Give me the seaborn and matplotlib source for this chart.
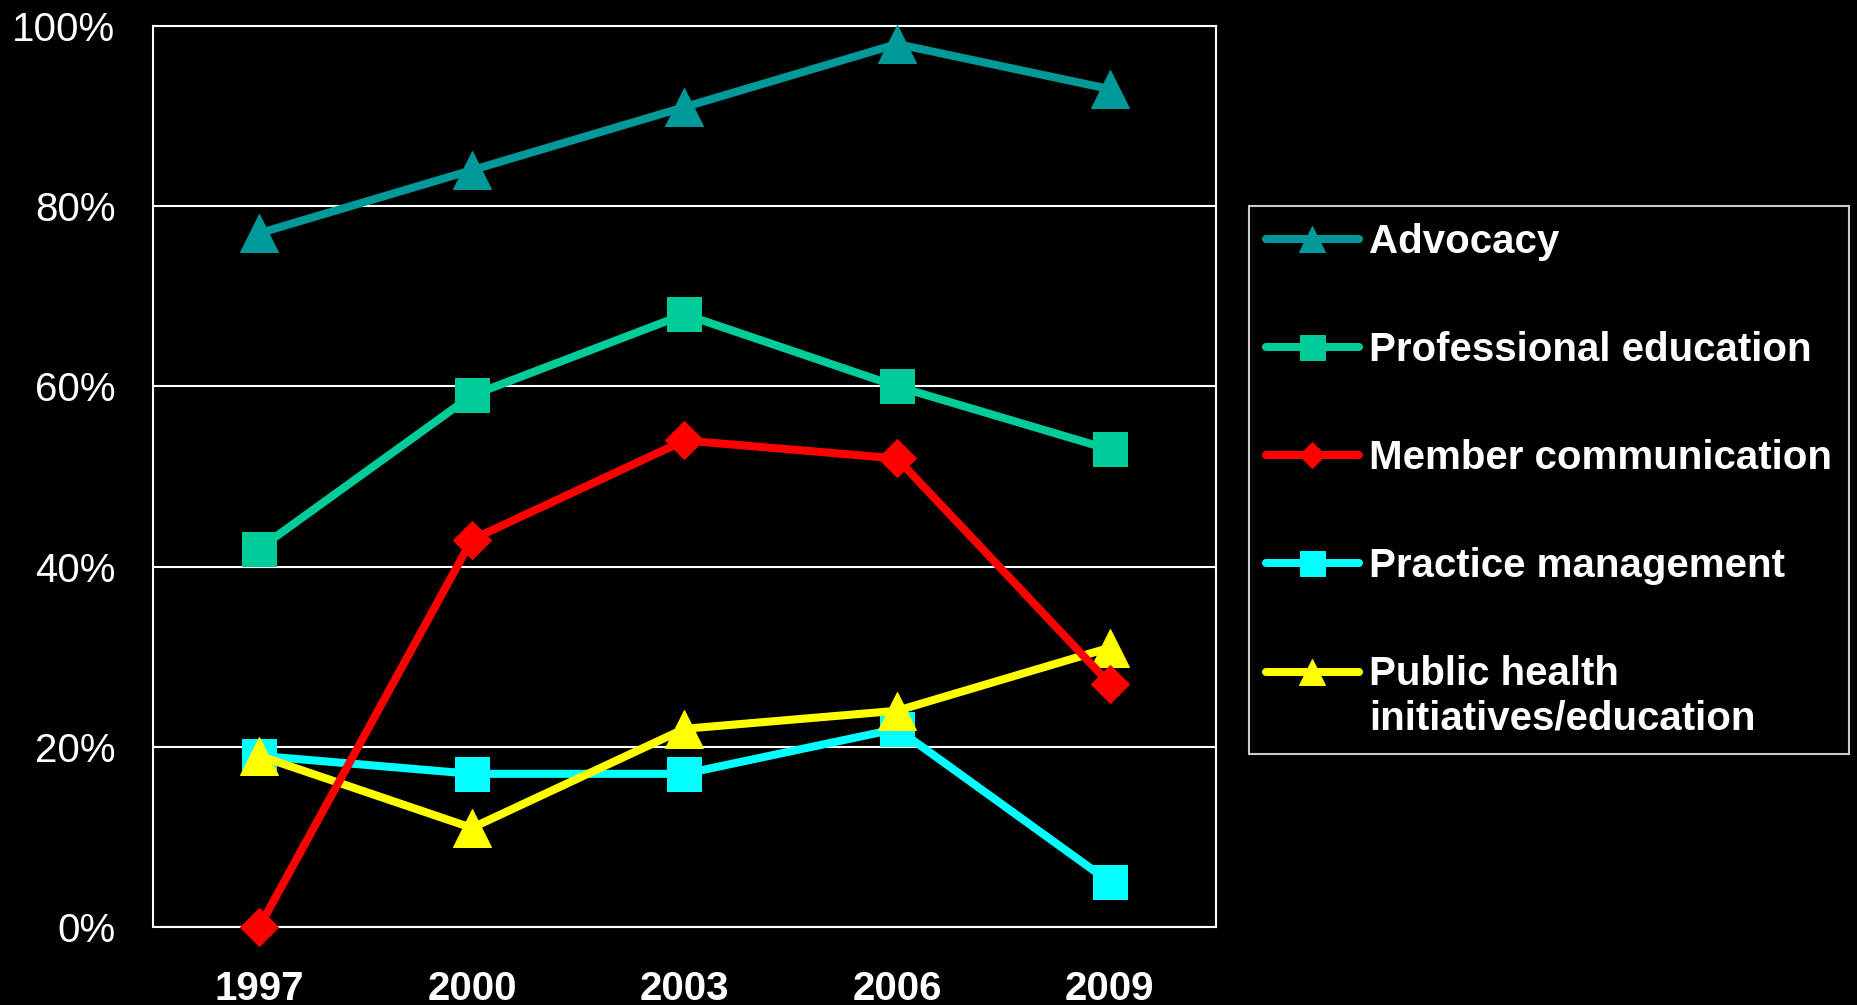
import matplotlib
matplotlib.use("Agg")
import matplotlib.pyplot as plt
import matplotlib.ticker as mticker
import numpy as np
import seaborn as sns

years = ["1997", "2000", "2003", "2006", "2009"]
series_names = ["Advocacy", "Professional education", "Member communication",
                "Practice management", "Public health\ninitiatives/education"]
advocacy = [77, 84, 91, 98, 93]
professional_education = [42, 59, 68, 60, 53]
member_communication = [0, 43, 54, 52, 27]
practice_management = [19, 17, 17, 22, 5]
public_health = [19, 11, 22, 24, 31]

colors = ["#009999", "#00CC99", "#FF0000", "#00FFFF", "#FFFF00"]
markers = ["^", "s", "D", "s", "^"]
sizes = [27, 25, 19, 25, 27]
zorders = [3, 3, 5, 3, 4]

sns.set_style("dark")
plt.rcParams['font.family'] = ['Liberation Sans', 'DejaVu Sans']
plt.rcParams['font.size'] = 29

fig = plt.figure(figsize=(18.58, 10.05), dpi=100, facecolor="black")
ax = fig.add_axes([153 / 1858, 78 / 1005, 1063 / 1858, 901 / 1005])
ax.set_facecolor("black")

x = np.arange(len(years))
all_series = [advocacy, professional_education, member_communication,
              practice_management, public_health]
for name, vals, c, m, s, z in zip(series_names, all_series, colors, markers, sizes, zorders):
    sns.lineplot(x=x, y=vals, ax=ax, color=c, linewidth=5.8, marker=m,
                 markersize=s, markeredgecolor=c, label=name, clip_on=False,
                 legend=False, zorder=z)

ax.set_xlim(-0.5, len(years) - 0.5)
ax.set_ylim(0, 100)
ax.set_yticks(np.arange(0, 101, 20))
ax.yaxis.set_major_formatter(mticker.FuncFormatter(lambda v, p: f"{int(v)}%"))
ax.set_xticks(x)
ax.set_xticklabels(years, fontweight="bold")
ax.set_xticks(np.arange(-0.5, len(years), 1), minor=True)
ax.tick_params(axis="x", which="major", length=0, pad=31, colors="white", labelsize=29)
ax.tick_params(axis="x", which="minor", length=8, width=1.5, colors="white")
ax.tick_params(axis="y", length=11, width=1.5, colors="white", labelsize=29, pad=16)
ax.grid(axis="y", color="white", linewidth=1.5)
ax.grid(axis="x", visible=False)
for sp in ax.spines.values():
    sp.set_visible(True)
    sp.set_color("white")
    sp.set_linewidth(1.5)
ax.set_xlabel("")
ax.set_ylabel("")

handles, labels = ax.get_legend_handles_labels()
leg = fig.legend(handles, labels, loc="upper left", bbox_to_anchor=(1249 / 1858, 1 - 206 / 1005),
                 frameon=True, fancybox=False, facecolor="black", edgecolor="white",
                 labelcolor="white", prop={"weight": "bold", "size": 29},
                 handlelength=2.3, handletextpad=0.27, labelspacing=1.74,
                 markerscale=0.72, borderaxespad=0, borderpad=0.42)
leg.get_frame().set_linewidth(1.5)
# two-line entry: put its handle level with the first line, as in the original
last = leg.legend_handles[-1]
last.set_ydata(np.asarray(last.get_ydata()) + 18)

fig.savefig("out.png", dpi=100, facecolor="black")
